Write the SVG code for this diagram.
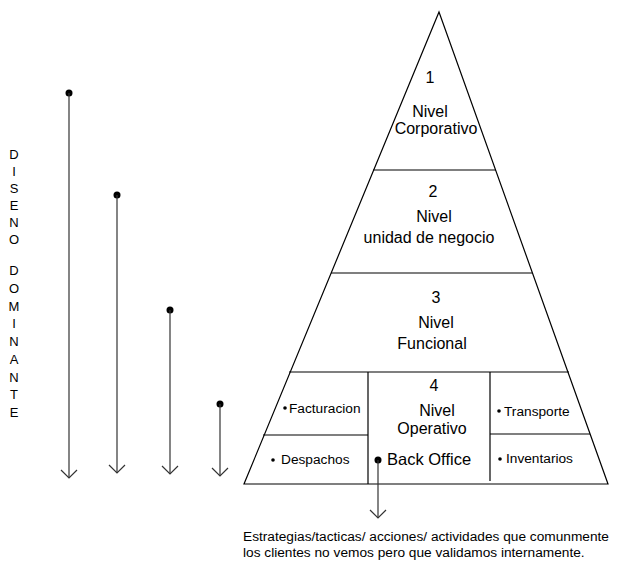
<svg xmlns="http://www.w3.org/2000/svg" width="618" height="561" viewBox="0 0 618 561">
  <style>
    .edge { fill: none; stroke: #000; stroke-width: 1.2; }
    .big { font-family: "Liberation Sans", Arial, sans-serif; font-size: 16px; fill: #000; text-anchor: middle; }
    .small { font-family: "Liberation Sans", Arial, sans-serif; font-size: 13.7px; fill: #000; }
    .vert { font-family: "Liberation Sans", Arial, sans-serif; font-size: 13px; fill: #000; text-anchor: middle; }
    .arrow { fill: none; stroke: #333; stroke-width: 1.2; }
  </style>
  <defs>
    <marker id="vhead" markerWidth="20" markerHeight="20" refX="10" refY="10" markerUnits="userSpaceOnUse" orient="auto">
      <path d="M2,2 L10,10 L2,18" fill="none" stroke="#333" stroke-width="1.2"/>
    </marker>
  </defs>

  <rect width="618" height="561" fill="#fff"/>

  <!-- pyramid outline and level dividers -->
  <g id="pyramid">
    <polygon class="edge" points="439,12 608,484 244,484"/>
    <line class="edge" x1="373" y1="170" x2="496" y2="170"/>
    <line class="edge" x1="331" y1="273" x2="532" y2="273"/>
    <line class="edge" x1="289" y1="372" x2="569" y2="372"/>
  </g>

  <g id="level1">
    <text class="big" x="430" y="83">1</text>
    <text class="big" x="430" y="117">Nivel</text>
    <text class="big" x="436" y="134">Corporativo</text>
  </g>

  <g id="level2">
    <text class="big" x="433" y="197">2</text>
    <text class="big" x="434" y="222">Nivel</text>
    <text class="big" x="429" y="243">unidad de negocio</text>
  </g>

  <g id="level3">
    <text class="big" x="436" y="303">3</text>
    <text class="big" x="436" y="328">Nivel</text>
    <text class="big" x="432" y="349">Funcional</text>
  </g>

  <g id="level4">
    <line class="edge" x1="368" y1="372" x2="368" y2="484"/>
    <line class="edge" x1="490" y1="372" x2="490" y2="481"/>
    <line class="edge" x1="263" y1="435" x2="368" y2="435"/>
    <line class="edge" x1="490" y1="434" x2="590" y2="434"/>
    <text class="big" x="434" y="391">4</text>
    <text class="big" x="437" y="416">Nivel</text>
    <text class="big" x="432" y="434">Operativo</text>
  </g>

  <g id="facturacion">
    <circle cx="285" cy="408" r="1.8"/>
    <text class="small" x="289" y="413">Facturacion</text>
  </g>
  <g id="despachos">
    <circle cx="273" cy="460" r="1.8"/>
    <text class="small" x="281" y="464">Despachos</text>
  </g>
  <g id="transporte">
    <circle cx="499" cy="411" r="1.8"/>
    <text class="small" x="504" y="416">Transporte</text>
  </g>
  <g id="inventarios">
    <circle cx="500" cy="459" r="1.8"/>
    <text class="small" x="506" y="463">Inventarios</text>
  </g>
  <g id="backoffice">
    <circle cx="378" cy="460" r="3.5"/>
    <text class="small" x="387" y="465" style="font-size:16.5px">Back Office</text>
  </g>

  <!-- vertical side label -->
  <g id="side-label">
    <text class="vert" x="14" y="159">D</text>
    <text class="vert" x="14" y="176">I</text>
    <text class="vert" x="14" y="193">S</text>
    <text class="vert" x="14" y="210">E</text>
    <text class="vert" x="14" y="227">N</text>
    <text class="vert" x="14" y="244">O</text>
    <text class="vert" x="14" y="275">D</text>
    <text class="vert" x="14" y="293">O</text>
    <text class="vert" x="14" y="311">M</text>
    <text class="vert" x="14" y="328">I</text>
    <text class="vert" x="14" y="346">N</text>
    <text class="vert" x="14" y="364">A</text>
    <text class="vert" x="14" y="382">N</text>
    <text class="vert" x="14" y="399">T</text>
    <text class="vert" x="14" y="417">E</text>
  </g>

  <!-- connectors -->
  <g id="connectors">
    <circle cx="69" cy="93" r="3.5"/>
    <line class="arrow" x1="69" y1="93" x2="69" y2="478" marker-end="url(#vhead)"/>
    <circle cx="117" cy="195" r="3.5"/>
    <line class="arrow" x1="117" y1="195" x2="117" y2="473" marker-end="url(#vhead)"/>
    <circle cx="170" cy="310" r="3.5"/>
    <line class="arrow" x1="170" y1="310" x2="170" y2="474" marker-end="url(#vhead)"/>
    <circle cx="220" cy="404" r="3.5"/>
    <line class="arrow" x1="220" y1="404" x2="220" y2="476" marker-end="url(#vhead)"/>
    <line class="arrow" x1="378" y1="460" x2="378" y2="518" marker-end="url(#vhead)"/>
  </g>

  <g id="note">
    <text class="small" x="243" y="541">Estrategias/tacticas/ acciones/ actividades que comunmente</text>
    <text class="small" x="243" y="557">los clientes no vemos pero que validamos internamente.</text>
  </g>
</svg>
